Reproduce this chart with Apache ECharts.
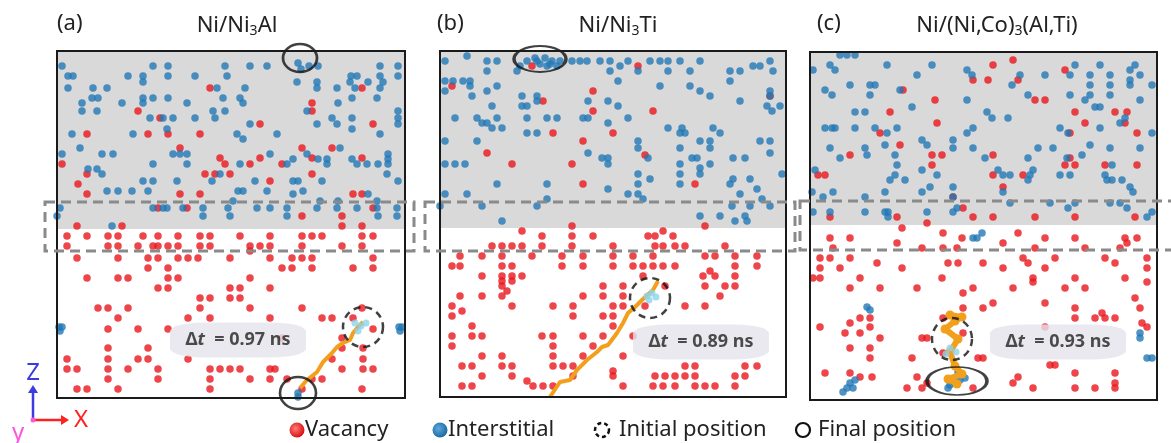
<!DOCTYPE html>
<html>
<head>
<meta charset="utf-8">
<script src="https://cdn.jsdelivr.net/npm/echarts@6/dist/echarts.min.js"></script>
<style>
  html, body { margin: 0; padding: 0; background: #fff; }
  #chart { width: 1171px; height: 443px; }
</style>
</head>
<body>
<div id="chart"></div>
<script>
// lattice units: x = column across the cell, y = row down from the top (~10 px each)
// rows are stored as [row, [columns...]]
const tags = ['(a)', '(b)', '(c)'];
const titles = ['Ni/Ni{s|3}Al', 'Ni/Ni{s|3}Ti', 'Ni/(Ni,Co){s|3}(Al,Ti)'];
const dtValues = ['0.97', '0.89', '0.93'];
const grayDepth = [17.8, 17.7, 17.5];
const bandRows = [15.1, 20];

const vacA = [
  [3.7, [15.3, 30.5]], [5.2, [25.5]], [6, [8.1, 25.5]], [6.7, [10.3]], [7.3, [20.3, 31.6]],
  [8.3, [3, 9.1, 11.1, 14.3]], [9.7, [12.3, 24.5, 27.5]], [10.7, [16.3, 20.3, 25.5, 30.5]],
  [11.3, [0.5, 16.8, 19.3, 22.5]], [12.3, [3, 14.8, 15.8, 17.3, 25.5]], [13, [21.3]], [13.3, [2.1]],
  [14.3, [3, 12.3, 14.3, 29.6, 30.5]],
  [15.7, [10.1, 13, 31.6]], [16.5, [24.5, 28.5]], [17.5, [2, 6.5, 28.5, 30.5]],
  [18.5, [1, 3, 5.1, 6.1, 8.6, 10.1, 12.1, 14.3, 15.3, 18.3, 21.3, 24.5, 25.5, 26.5, 30.5, 31.6]],
  [19.5, [1, 5.1, 6.1, 8.1, 9.6, 10.1, 11.1, 12.1, 14.3, 15.3, 19.3, 20.3, 21.3, 24.5, 28.5, 30.5]],
  [20, [19.3]],
  [20.7, [2, 6.1, 9.1, 10.1, 12.1, 13.1, 14.1, 17.3, 21.3, 23.5, 24.5, 25.5, 31.6]],
  [21.7, [9.1, 11.1, 22.5, 23.5, 25.5, 29.6, 31.6]],
  [22.7, [3, 6.1, 7.1, 11.1, 12.1, 19.3]],
  [23.7, [10.1, 11.1, 17.3, 18.3, 21.3]],
  [24.7, [14.3, 15.3, 17.3, 18.3]],
  [25.7, [4.1, 5.1, 7.1, 14.3, 19.3, 24.5, 30.5]],
  [26.7, [6.1, 13.1, 15.3, 21.3, 26.5, 27.5, 29.6]],
  [27.8, [5.1, 8.1, 11.1, 31.6]],
  [28.7, [22.5, 28.5]],
  [29.7, [5.1, 9.1, 28.5, 30.6]],
  [30.8, [1, 5.1, 8.1, 9.1, 13.1, 27.5, 30.6]],
  [31.8, [1, 2, 5.1, 7.1, 10.1, 15.3, 16.3, 17.3, 18.3, 21.3, 21.8, 28.5, 30.6, 31.6]],
  [32.8, [5.1, 10.1, 15.3, 19.3, 21.3, 23, 25.5, 26.5]],
  [33.8, [2, 3, 6.1, 15.3, 24.5, 30.5]]
];
const intA = [
  [1.5, [0.5, 9.6, 11.1, 16.8, 19.3, 21, 25.2, 26.1, 32.3, 34.1]], [1.2, [24.1]], [1.8, [24.4]],
  [2.5, [1.1, 1.6, 7.1, 8.6, 11.1, 13.8, 17, 29.4, 30, 32.3, 34.1]],
  [3.1, [8.6, 24, 26, 29.3, 31.1, 32.6]],
  [3.7, [1.1, 3.6, 5, 16, 18.8, 26, 28, 29.8, 32.3]],
  [4.7, [3.5, 4.1, 8.6, 9.6, 11.1, 16.6, 18.3, 29.5, 32]],
  [5.2, [2.5, 6.5, 8.6, 13, 18.6, 28.1]],
  [6, [2.5, 4, 15.6, 16.8, 25, 34.1]],
  [6.7, [9.3, 10.6, 11.6, 13.8, 15.8, 27.5, 29.5, 34.1]],
  [7.3, [19.3, 26, 28, 34.1]], [7.8, [11, 29.5]],
  [8.3, [1.5, 7.6, 18, 22, 32.3]], [8.8, [18.6]], [9.7, [2.3, 28.3]],
  [10.3, [0.5, 4.5, 5.6, 11.6, 12.3, 13, 21.3, 25, 33.1]],
  [10.8, [23.6, 26.1, 27, 29.5, 33.1]],
  [11.3, [9.6, 13, 18.3, 23, 27, 30, 31, 32.1, 33.1]],
  [11.8, [3.1, 4]], [12.3, [4.5, 16.3, 33]],
  [13, [8.6, 9.6, 12, 15.5, 19.8, 23.6, 24.1, 26.5, 34.1]],
  [14, [5, 6.1, 7.5, 9.1, 18.1, 18.6, 21, 24.6]], [14.3, [23.6, 31.1]],
  [15, [17.6, 26.3, 28.1, 32]],
  [15.7, [0.3, 9.6, 10.6, 11, 12.6, 14.6, 17.1, 20, 21.3, 23, 26, 28, 30, 32, 34]],
  [16.5, [0, 14.6, 17.3, 23, 32.1, 34]], [17.5, [5.5]],
  [27.6, [0.2, 0.5, 34.2, 34.5]], [28, [0.3, 34.3]],
  [34.2, [24.1]], [34.6, [24.1]]
];

const vacB = [
  [1.5, [9.2, 19.8]], [3.5, [1.2]], [4, [15.3]], [4.5, [33]], [5, [10.3]], [6, [15.3, 21.3]],
  [8.2, [11.3, 17.3]], [9, [14.3]], [10.2, [4.7]], [10.4, [20.5]], [11.3, [7.2, 13.2]], [13.3, [14.3, 25.5]],
  [17.5, [13.2, 26.5]], [18, [8.2, 22.3]],
  [18.5, [10.2, 13.2, 15.3, 20.8, 21.5, 23.3]],
  [19.5, [5.2, 6.2, 7.2, 8.2, 10.2, 13.2, 17.3, 21.5, 22.3, 23.5, 24.5, 28.5]],
  [20.5, [2, 4.2, 6.2, 9.2, 12.2, 14.3, 17.3, 19.3, 21.3, 26.5, 27.5, 29.5, 31.7]],
  [21.5, [1.2, 2, 6.2, 7.2, 12.2, 14.3, 17.3, 19.3, 20.3, 21.3, 22.3, 23.5, 29.5, 31.7]],
  [22, [27]],
  [22.5, [4.2, 6.2, 7.2, 8.2, 20.3, 26.3, 27.5, 29.5]],
  [23, [6.2, 7.2]],
  [23.5, [6.2, 16.3, 18.3, 22.5, 26.5, 28.5, 29.5]],
  [24, [6.7]],
  [24.5, [2, 4.2, 6.2, 14.3, 16.3, 18.3, 28]],
  [25.5, [1.2, 7.2, 11.3, 13.3, 17.3, 18.3, 20.5, 24.5, 26.5]],
  [26, [2.2]],
  [26.5, [1.2, 13.3, 16.3, 17.3]],
  [27.5, [3.2, 17.3]],
  [28.5, [1.2, 3.2, 4.2, 10.2, 11.3, 14.3, 16.3, 19.3]],
  [29.5, [1.2, 11.3, 15.3]],
  [30.5, [4.2, 6.2, 11.3, 14.3, 18.3]],
  [31.5, [2.2, 3.2, 6.2, 7.2, 11.3, 12.3, 13.3, 24.5, 25.5, 30.5, 31.7]],
  [32, [17.3]],
  [32.5, [4.2, 7.2, 13.3, 17.3, 21.5, 22.5, 23.5, 24.5, 25.5, 29.5, 30.5]],
  [33, [8.7]],
  [33.5, [2.2, 3.2, 9.3, 10.3, 11.3, 18.3, 21.3, 22.3, 23.5, 25.5, 26.5, 27.5, 29.5]]
];
const intB = [
  [0.5, [2.7]],
  [1, [0.5, 4.7, 5.7, 8.7, 9.7, 11.2, 12, 13.2, 14, 14.7, 16, 17, 18.8, 21, 22, 22.8, 24, 26, 33]],
  [1.5, [8, 10.7, 11.7, 18, 31.3, 32]], [0.7, [9.5, 10.5]], [1.3, [10, 11]],
  [2, [4.7, 7.7, 17, 19.8, 22.8, 25, 29, 30, 33.3]],
  [3, [0.5, 1.3, 2.3, 3, 17.8, 29]], [3.5, [3, 5.7, 22, 25]],
  [4, [0.5, 4.7, 26, 33]], [4.5, [3.2, 8.2, 9.7, 27, 33]],
  [5, [9.7, 14.8, 16.8, 30]], [5.5, [5.2, 8.2, 8.7, 17.8, 32.7, 34]], [6, [33.2]],
  [6.7, [1.5, 3.7, 5.7, 8.7, 10.7, 11.7, 14.3, 14.8, 18.8]],
  [7.2, [4.2, 4.7, 16.8]], [7.7, [5.2, 6.2, 22.8, 24.2, 27.3]],
  [8.2, [8.7, 9.7, 24, 24.5, 28]],
  [9, [0.5, 3.7, 19.8, 26, 27, 32, 33]], [9.7, [19.8, 24, 27]], [10.2, [14.8, 33]],
  [10.7, [16.2, 16.8, 20.8, 25.2, 25.7, 29.3, 30.5]],
  [11.3, [0.5, 1.5, 2.5, 16.8, 24, 27]], [11.7, [26]],
  [12.3, [19.8, 24, 26, 34.2]], [12.8, [21, 29.3, 31]],
  [13.3, [5.7, 10.7, 19.8, 24, 29]], [13.8, [16.8, 31.7]],
  [14.3, [0.5, 2.7, 18.8, 19.8, 30]], [14.8, [10.7, 20.3, 32.2]],
  [15.5, [0, 4.2, 9.7, 29.2, 31, 33]], [16.5, [26, 28, 30.5]], [17, [6.2, 29.5, 30.7]]
];

const vacC = [
  [1, [20.3]], [1.5, [18.3]], [2, [25.5]], [3, [16.3, 17.8, 20.8]], [4, [9.3]], [5, [12.5, 22.5, 23.5]],
  [6.2, [8, 26.5, 30.5, 31.7]], [7.3, [12.7, 27.5, 31.5]], [8.3, [7, 26, 32.7]], [9.5, [9]],
  [10.5, [4, 12.2, 13.2, 18.3]], [10.8, [26]], [11.5, [12.2, 25.5, 26.5, 29.5, 32.7]],
  [12.5, [0.8, 1.5, 18.3, 21.3]], [13.7, [19.3]], [14.7, [14.3]], [15.8, [15.3]],
  [16.7, [2, 8.7, 16.3, 18.3, 22.5, 26.5, 32.5]],
  [17.3, [11.7]], [17.8, [9.2]], [18.3, [13.3, 20.8]],
  [18.8, [2, 4, 15.2, 23.5, 26.5, 31.5, 32.7]],
  [19.3, [8.7, 19.3, 31.7]],
  [19.8, [2.3, 11.2, 13.3, 14.7, 22.5, 27.5, 31]],
  [20.8, [1, 2, 4, 21.3, 24.5, 29.5, 33.7]],
  [21.3, [6.7, 13.8, 14.8, 17.3, 21.8, 30.5]],
  [21.8, [1, 3, 9.2, 19.3, 23.5, 33.7]],
  [22.8, [0.3, 1, 5, 13.2, 22.3, 26.5, 31.5]],
  [23.2, [22.3, 33.7]],
  [23.8, [4, 7, 10.7, 16.3, 20.3, 25.5, 27.5]],
  [24.3, [15.3]], [24.8, [32.5]], [25.3, [18.3, 23.5]],
  [25.8, [15.3, 17.3, 26.5, 33]], [26.3, [29.2]],
  [26.8, [5, 6, 13.3, 26.5, 28.5, 29.5, 30.5]],
  [27.3, [4, 33.2]], [27.7, [1, 6, 23.5, 33.7]],
  [28.3, [3.5, 5, 15.3]], [28.8, [7, 11.2, 11.7]],
  [29.8, [4, 6]], [30.3, [13.3]], [30.8, [6, 10.2, 16.8, 17.3]],
  [31.5, [24, 24.5]],
  [32.3, [1.5, 4, 26.5, 30.5]],
  [32.7, [5, 6.2, 10.7, 20.8]],
  [33.3, [11.7, 20.3, 30.5]],
  [33.8, [9.7, 11.2, 16.3, 22.3, 26.5, 28.5, 30.5]]
];
const intC = [
  [0.5, [3, 3.7, 4.5]],
  [1.5, [2, 7.7, 12.2, 26.5, 29, 32.5]], [2, [0.3, 2.5, 15.7, 32]],
  [2.5, [10.7, 16.2, 21, 23.5, 26, 28, 30, 33]], [3, [32]],
  [3.5, [4, 6, 6.5, 20.2, 28, 30, 32, 34.2]], [4, [1.5, 9]],
  [4.5, [2.2, 6, 21.8, 26, 28, 30]], [5, [15.7, 27.5, 33]],
  [5.7, [10.2, 28.5, 29]], [6.2, [4.5, 5.5, 17.7]], [6.8, [18.2, 19.8, 31.5]], [7.3, [31]],
  [7.8, [1.5, 2.2, 2.5, 4.5, 6.5, 8.7, 16.3, 25, 29]],
  [8.3, [7.7, 15.7, 25.8, 34.2]], [9, [11.2, 14.3]], [9.5, [7.5, 11.7, 28]],
  [9.8, [2, 5.5, 14.3, 16.3, 22.8, 24.3, 30, 33]],
  [10.5, [5.7, 8.5, 27.2]], [10.8, [3, 17.5, 21.8, 25.7]], [11.5, [8.7, 30.2]],
  [12, [0.5, 11.2, 18.8, 22.3]],
  [12.5, [8.5, 12.7, 19.3, 20, 22, 25, 26, 29.5]],
  [13, [8, 9.5, 21.8, 29.7, 30.2, 31.2]], [13.7, [12, 14.3, 32]],
  [14.2, [0.2, 2.3, 7.5, 11.2, 19.3, 32.3]], [14.7, [1.3, 5.5, 14.3]],
  [15.3, [20, 24, 26.5, 30, 31]], [15.8, [14.7, 25.8, 31.7]],
  [16.2, [0.3, 2, 5.5, 7.5, 7.8, 11.7, 14.3, 34.2]], [16.7, [7.8, 33.7]],
  [18.3, [17.2]], [18.8, [16.3, 16.7]], [25.7, [5.7]], [26, [6]],
  [28.3, [33]], [28.8, [33]], [30.8, [33.7, 34.2]],
  [32.2, [14.8]], [32.8, [15.5]], [33, [4.5, 15]], [33.3, [4, 14.5]], [33.5, [14]],
  [33.8, [3.7, 4.3, 13.8]], [34.2, [3.3]]
];

// interstitial paths and the light-blue start atoms
const trajA = [[24.3, 33.7], [25, 32.9], [26, 32.1], [26.6, 31.1], [27.5, 30.2], [28, 29.6], [28.6, 29.2], [29.3, 28.9], [29.6, 28.2], [30.1, 27.6], [30.6, 27.1]];
const trajB = [[11, 34.6], [12, 33.1], [13, 32.9], [13.7, 31.9], [14.7, 30.9], [15.7, 30.1], [16.2, 29.6], [16.8, 29.4], [17.7, 28.2], [18.3, 27.2], [18.8, 26.2], [19.5, 25.6], [20.2, 24.9], [21.3, 23.9], [21.8, 23]];
const trajC = [[14.7, 33.4], [13.8, 32.9], [15.2, 32.4], [14.5, 31.6], [14, 30.2], [14.8, 28.9], [13.5, 27.9], [14.5, 27.1], [15.2, 26.7], [14, 26.5]];
const startA = [[29.8, 27.2], [30.4, 27.5], [30.1, 28], [30.9, 27.2]];
const startB = [[20.7, 24.5], [21.2, 24.2], [21.6, 24.6], [20.9, 24.9]];
const startC = [[14, 29.8], [14.6, 30.2], [13.6, 30.4]];

const initialPos = [[30.6, 27.6], [21, 24.7], [14.2, 28.9]];
const finalPos = [[[24.3, 0.7], [24.1, 34.2]], [[10, 0.8]], [[14.7, 33.1]]];
const dtPos = [[18.1, 28.9], [26.1, 29.1], [24.8, 29.2]];

// layout / style
const boxes = [
  { left: 57, top: 51, width: 348, height: 347, ymin: 0 },
  { left: 440, top: 51, width: 346, height: 346, ymin: 0 },
  { left: 810, top: 52, width: 347, height: 348, ymin: 0.2 }
];
const initialSize = [[40, 40], [40, 40], [40, 42]];
const finalSize = [[[34, 28], [36, 32]], [[52, 26]], [[60, 28]]];
const RED = '#e8161d', BLUE = '#2278b5', ORANGE = '#f2a01c', CYAN = '#8fd3ea';
const FONT = 'Noto Sans';

const expand = rows => rows.flatMap(([r, cols]) => cols.map(c => [c, r]));
const vac = [vacA, vacB, vacC].map(expand);
const inter = [intA, intB, intC].map(expand);
const traj = [trajA, trajB, trajC];
const starts = [startA, startB, startC];

const grids = boxes.map(b => ({ left: b.left, top: b.top, width: b.width, height: b.height }));
const xAxes = boxes.map((b, i) => ({ gridIndex: i, type: 'value', min: 0, max: b.width / 10, show: false }));
const yAxes = boxes.map((b, i) => ({ gridIndex: i, type: 'value', inverse: true, min: b.ymin, max: b.ymin + b.height / 10, show: false }));

const series = [];
boxes.forEach((b, p) => {
  const ax = { xAxisIndex: p, yAxisIndex: p };
  series.push({
    ...ax, type: 'line', data: [], z: 1, silent: true,
    markArea: {
      silent: true, itemStyle: { color: '#d9d9d9' },
      data: [[{ coord: [0, b.ymin] }, { coord: [b.width / 10, grayDepth[p]] }]]
    }
  });
  series.push({ ...ax, type: 'scatter', data: vac[p], symbolSize: 7.5, itemStyle: { color: RED }, z: 2 });
  series.push({ ...ax, type: 'scatter', data: inter[p], symbolSize: 7.5, itemStyle: { color: BLUE }, z: 3 });
  series.push({
    ...ax, type: 'line', data: traj[p], clip: false, symbol: p === 2 ? 'circle' : 'none', symbolSize: 9,
    showSymbol: p === 2, itemStyle: { color: ORANGE },
    lineStyle: { color: ORANGE, width: p === 2 ? 6 : 4 }, z: 4
  });
  series.push({ ...ax, type: 'scatter', data: starts[p], symbolSize: 7, itemStyle: { color: CYAN }, z: 5 });
  series.push({
    ...ax, type: 'scatter', data: [initialPos[p]], clip: false, symbolSize: initialSize[p],
    itemStyle: { color: 'rgba(0,0,0,0)', borderColor: '#111', borderWidth: 2.5, borderType: [7, 5] }, z: 6
  });
  series.push({
    ...ax, type: 'scatter', data: finalPos[p], clip: false,
    symbolSize: (v, prm) => finalSize[p][prm.dataIndex],
    itemStyle: { color: 'rgba(0,0,0,0)', borderColor: '#111', borderWidth: 2.5 }, z: 6
  });
  series.push({
    ...ax, type: 'scatter', data: [dtPos[p]], symbol: 'roundRect', symbolSize: [136, 35],
    itemStyle: { color: '#e6e3ec' }, z: 7,
    label: {
      show: true, position: 'inside',
      formatter: () => '{d|Δ}{t|t}{d|  = ' + dtValues[p] + ' ns}',
      rich: {
        d: { fontFamily: FONT, fontWeight: 'bold', fontSize: 18, color: '#222' },
        t: { fontFamily: FONT, fontWeight: 'bold', fontStyle: 'italic', fontSize: 18, color: '#222' }
      }
    }
  });
});

const titleRich = {
  s: { fontFamily: FONT, fontSize: 14, color: '#222', padding: [11, 0, 0, 0] }
};
const titleCenters = [232, 613, 992];
const tagLefts = [52, 432, 812];
const title = [];
tags.forEach((t, i) => {
  title.push({ text: t, left: tagLefts[i], top: 8, textStyle: { fontFamily: FONT, fontSize: 22, fontWeight: 'normal', color: '#222' } });
  title.push({
    text: titles[i], left: titleCenters[i], top: 8, textAlign: 'center',
    textStyle: { fontFamily: FONT, fontSize: 22, fontWeight: 'normal', color: '#222', rich: titleRich }
  });
});

const chart = echarts.init(document.getElementById('chart'));
chart.setOption({
  animation: false,
  backgroundColor: '#fff',
  title: title,
  grid: grids,
  xAxis: xAxes,
  yAxis: yAxes,
  series: series
});

// frames, highlight bands, legend and axis triad
const graphic = [];
const bandPad = [[-12, 9], [-15, 9], [-10, 30]];
boxes.forEach((b, p) => {
  graphic.push({
    type: 'rect', z: 100,
    shape: { x: b.left, y: b.top, width: b.width, height: b.height },
    style: { fill: null, stroke: '#1a1a1a', lineWidth: 2 }
  });
  const y0 = chart.convertToPixel({ xAxisIndex: p, yAxisIndex: p }, [0, bandRows[0]])[1];
  const y1 = chart.convertToPixel({ xAxisIndex: p, yAxisIndex: p }, [0, bandRows[1]])[1];
  graphic.push({
    type: 'rect', z: 101,
    shape: { x: b.left + bandPad[p][0], y: y0, width: b.width - bandPad[p][0] + bandPad[p][1], height: y1 - y0 },
    style: { fill: null, stroke: '#8a8a8a', lineWidth: 3, lineDash: [10, 6] }
  });
});

const ball = c => ({
  type: 'radial', x: 0.4, y: 0.4, r: 0.7,
  colorStops: [{ offset: 0, color: c[0] }, { offset: 1, color: c[1] }]
});
const legendText = { fontFamily: FONT, fontSize: 22, fill: '#222', verticalAlign: 'middle' };
graphic.push(
  { type: 'circle', shape: { cx: 297, cy: 430, r: 7.5 }, style: { fill: ball(['#ff7a7a', '#d40000']) } },
  { type: 'text', x: 305, y: 430, style: { ...legendText, text: 'Vacancy' } },
  { type: 'circle', shape: { cx: 440, cy: 430, r: 7.5 }, style: { fill: ball(['#5fa8dc', '#13609c']) } },
  { type: 'text', x: 448, y: 430, style: { ...legendText, text: 'Interstitial' } },
  { type: 'circle', shape: { cx: 602, cy: 430, r: 7 }, style: { fill: null, stroke: '#111', lineWidth: 2.5, lineDash: [4, 3] } },
  { type: 'text', x: 619, y: 430, style: { ...legendText, text: 'Initial position' } },
  { type: 'circle', shape: { cx: 803, cy: 430, r: 7 }, style: { fill: null, stroke: '#111', lineWidth: 2.2 } },
  { type: 'text', x: 818, y: 430, style: { ...legendText, text: 'Final position' } }
);

// axis triad
graphic.push(
  { type: 'line', shape: { x1: 33, y1: 420, x2: 33, y2: 392 }, style: { stroke: '#3b3be0', lineWidth: 2.5 } },
  { type: 'polygon', shape: { points: [[28, 393], [38, 393], [33, 385]] }, style: { fill: '#3b3be0' } },
  { type: 'line', shape: { x1: 33, y1: 420, x2: 62, y2: 420 }, style: { stroke: '#ff2020', lineWidth: 2.5 } },
  { type: 'polygon', shape: { points: [[61, 415], [61, 425], [69, 420]] }, style: { fill: '#ff2020' } },
  { type: 'circle', shape: { cx: 33, cy: 420, r: 2.5 }, style: { fill: '#ff55dd' } },
  { type: 'text', x: 33, y: 373, style: { text: 'Z', fontFamily: FONT, fontSize: 24, fill: '#3b3be0', align: 'center', verticalAlign: 'middle' } },
  { type: 'text', x: 81, y: 420, style: { text: 'X', fontFamily: FONT, fontSize: 24, fill: '#ff2020', align: 'center', verticalAlign: 'middle' } },
  { type: 'text', x: 18, y: 433, style: { text: 'y', fontFamily: FONT, fontSize: 24, fill: '#ff55dd', align: 'center', verticalAlign: 'middle' } }
);

chart.setOption({ graphic: graphic });
</script>
</body>
</html>
